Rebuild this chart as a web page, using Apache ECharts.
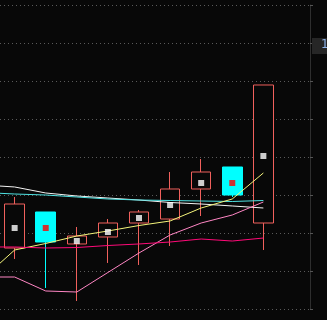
<!DOCTYPE html>
<html>
<head>
<meta charset="utf-8">
<style>
html,body{margin:0;padding:0;background:#080808;overflow:hidden;width:327px;height:320px;}
#c{position:absolute;left:-32px;top:0;width:359px;height:320px;}
</style>
<script src="https://cdn.jsdelivr.net/npm/echarts@6/dist/echarts.min.js"></script>
</head>
<body>
<div id="c"></div>
<script>
// categories: index 0 is a scrolled-off day, last is an empty slot
var categories = ['d0','d1','d2','d3','d4','d5','d6','d7','d8','d9','d10'];
// [open, close, low, high]
var candles = [
  '-',
  [11.605, 12.763, 11.316, 12.947],
  [12.553, 11.763, 10.553, 12.553],
  [11.711, 11.921, 10.211, 12.158],
  [11.895, 12.263, 11.211, 12.368],
  [12.263, 12.553, 11.158, 12.605],
  [12.368, 13.158, 11.658, 13.605],
  [13.158, 13.605, 12.447, 13.947],
  [13.737, 13.000, 12.947, 13.737],
  [12.263, 15.895, 11.553, 15.895],
  '-'
];
var markerValues = ['-', 12.132, 12.132, 11.789, 12.026, 12.395, 12.737, 13.316, 13.316, 14.026, '-'];
var maWhite   = [13.263, 13.211, 13.053, 12.974, 12.921, 12.868, 12.803, 12.763, 12.711, 12.658, '-'];
var maCyan    = [13.066, 13.026, 13.000, 12.947, 12.895, 12.868, 12.855, 12.842, 12.829, 12.855, '-'];
var maYellow  = [10.816, 11.553, 11.724, 11.921, 12.053, 12.197, 12.316, 12.658, 12.895, 13.579, '-'];
var maPink    = [10.842, 10.842, 10.474, 10.447, 10.961, 11.474, 11.947, 12.263, 12.474, 12.816, '-'];
var maMagenta = [11.632, 11.632, 11.605, 11.618, 11.671, 11.711, 11.763, 11.842, 11.789, 11.868, '-'];
var yMin = 10, yMax = 18, yInterval = 1;
var priceLabel = '1';

var UP = '#f0605c', DOWN = '#00ffff';
var SHIFT = 32; // chart canvas starts 32px left of the window

var markerData = markerValues.map(function (v, i) {
  if (v === '-') return '-';
  var c = candles[i];
  var up = c[1] >= c[0];
  return { value: v, itemStyle: { color: up ? '#ffffff' : '#ff0000' } };
});

function ma(name, data, color) {
  return {
    name: name, type: 'line', data: data, symbol: 'none', z: 4,
    lineStyle: { width: 1, color: color }, animation: false
  };
}

var chart = echarts.init(document.getElementById('c'), null, { renderer: 'canvas' });
chart.setOption({
  backgroundColor: '#080808',
  animation: false,
  grid: { left: 0, top: 5, width: 342, height: 304 },
  xAxis: {
    type: 'category', data: categories, show: false, boundaryGap: true
  },
  yAxis: {
    type: 'value', position: 'right', min: yMin, max: yMax, interval: yInterval,
    axisLine: { show: true, lineStyle: { color: '#2e2e2e', width: 1 } },
    axisTick: { show: true, length: 3, lineStyle: { color: '#555' } },
    axisLabel: { show: false },
    splitLine: { show: true, lineStyle: { color: '#5a5a5a', type: [1, 3], width: 1 } }
  },
  series: [
    {
      type: 'candlestick', data: candles, barWidth: 20, z: 2,
      itemStyle: {
        color: '#080808', color0: DOWN,
        borderColor: UP, borderColor0: DOWN, borderWidth: 1
      }
    },
    ma('white', maWhite, '#f4f4f4'),
    ma('cyan', maCyan, '#4fe3e3'),
    ma('yellow', maYellow, '#f4f47a'),
    ma('pink', maPink, '#ff86c4'),
    ma('magenta', maMagenta, '#ff0a78'),
    {
      type: 'scatter', data: markerData, symbol: 'rect', symbolSize: 6, z: 6
    }
  ],
  graphic: [
    {
      type: 'rect', left: 312 + SHIFT, top: 38, shape: { width: 15, height: 16 },
      style: { fill: '#262626' }, z: 100
    },
    {
      type: 'text', left: 321 + SHIFT, top: 39,
      style: { text: priceLabel, fill: '#8fb4ea', font: '12px "DejaVu Sans", sans-serif' }, z: 101
    }
  ]
});
</script>
</body>
</html>
